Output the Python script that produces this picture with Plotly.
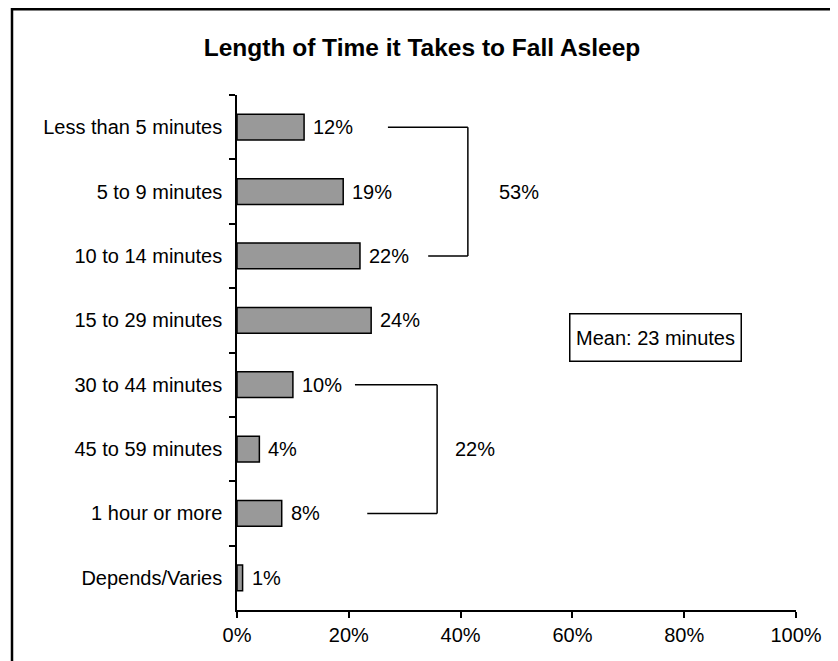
import plotly.graph_objects as go

categories = ["Less than 5 minutes", "5 to 9 minutes", "10 to 14 minutes",
              "15 to 29 minutes", "30 to 44 minutes", "45 to 59 minutes",
              "1 hour or more", "Depends/Varies"]
values = [12, 19, 22, 24, 10, 4, 8, 1]
x_ticks = [0, 20, 40, 60, 80, 100]
x_tick_labels = ["0%", "20%", "40%", "60%", "80%", "100%"]
title_text = "Length of Time it Takes to Fall Asleep"
mean_text = "Mean: 23 minutes"
group1 = [0, 1, 2]
group2 = [4, 5, 6]

FONT = "Liberation Sans, Arial, sans-serif"
FS = 20

# page body has an 8px margin, so the figure is sized to fill the rest
W, H = 830, 653
ML, MR, MT, MB = 229, 42, 87, 51
PW = W - ML - MR
PH = H - MT - MB

fig = go.Figure()
fig.add_trace(go.Bar(
    x=values, y=categories, orientation="h",
    width=0.4,
    marker=dict(color="#999999", line=dict(color="black", width=1.5)),
    hoverinfo="skip",
))

annotations = []
for c, v in zip(categories, values):
    annotations.append(dict(x=v, y=c, xref="x", yref="y", text=f"{v}%",
                            showarrow=False, xanchor="left", xshift=7,
                            font=dict(family=FONT, size=FS, color="black")))

shapes = []
def bracket(idx, x_vert, x_top, x_bot, label_x):
    top = categories[idx[0]]
    bot = categories[idx[-1]]
    mid = categories[idx[len(idx)//2]]
    total = sum(values[i] for i in idx)
    ln = dict(color="black", width=1.5)
    shapes.append(dict(type="line", xref="x", yref="y", x0=x_top, x1=x_vert, y0=top, y1=top, line=ln))
    shapes.append(dict(type="line", xref="x", yref="y", x0=x_vert, x1=x_vert, y0=top, y1=bot, line=ln))
    shapes.append(dict(type="line", xref="x", yref="y", x0=x_bot, x1=x_vert, y0=bot, y1=bot, line=ln))
    annotations.append(dict(x=label_x, y=mid, xref="x", yref="y", text=f"{total}%",
                            showarrow=False, xanchor="center",
                            font=dict(family=FONT, size=FS, color="black")))

bracket(group1, 41.3, 27.0, 34.2, 50.4)
bracket(group2, 35.8, 21.1, 23.3, 42.5)

annotations.append(dict(x=74.8, y=(602 - 329.5) / PH, xref="x", yref="paper", text=mean_text,
                        showarrow=False, xanchor="center", yanchor="middle",
                        width=168, height=44, bordercolor="black", borderwidth=1.5,
                        bgcolor="white",
                        font=dict(family=FONT, size=FS, color="black")))

# outer border (figure coords: left 4, right 825, top ~1)
shapes.append(dict(type="rect", xref="paper", yref="paper",
                   x0=(4 - ML) / PW, x1=(825 - ML) / PW,
                   y0=-(H - MT - PH + 20) / PH, y1=(MT - 1.2) / PH + 1,
                   line=dict(color="black", width=2.5), layer="below"))

fig.update_layout(
    width=W, height=H,
    margin=dict(l=ML, r=MR, t=MT, b=MB),
    paper_bgcolor="white", plot_bgcolor="white",
    showlegend=False,
    title=dict(text=f"<b>{title_text}</b>", x=(422 - 8) / W, xanchor="center",
               y=1 - 39 / H, yanchor="middle",
               font=dict(family=FONT, size=24.5, color="black")),
    xaxis=dict(range=[0, 100], tickvals=x_ticks, ticktext=x_tick_labels,
               showgrid=False, zeroline=False, showline=True,
               linecolor="black", linewidth=1.5,
               ticks="outside", ticklen=6, tickcolor="black", tickwidth=1.5,
               tickfont=dict(family=FONT, size=FS, color="black")),
    yaxis=dict(type="category", categoryorder="array", categoryarray=categories,
               autorange=False, range=[7.5, -0.5],
               tickson="boundaries",
               showgrid=False, zeroline=False, showline=True,
               linecolor="black", linewidth=1.5,
               ticks="outside", ticklen=6, tickcolor="black", tickwidth=1.5,
               ticklabelstandoff=9,
               tickfont=dict(family=FONT, size=FS, color="black")),
    shapes=shapes,
    annotations=annotations,
)

fig.write_html("out.html")
